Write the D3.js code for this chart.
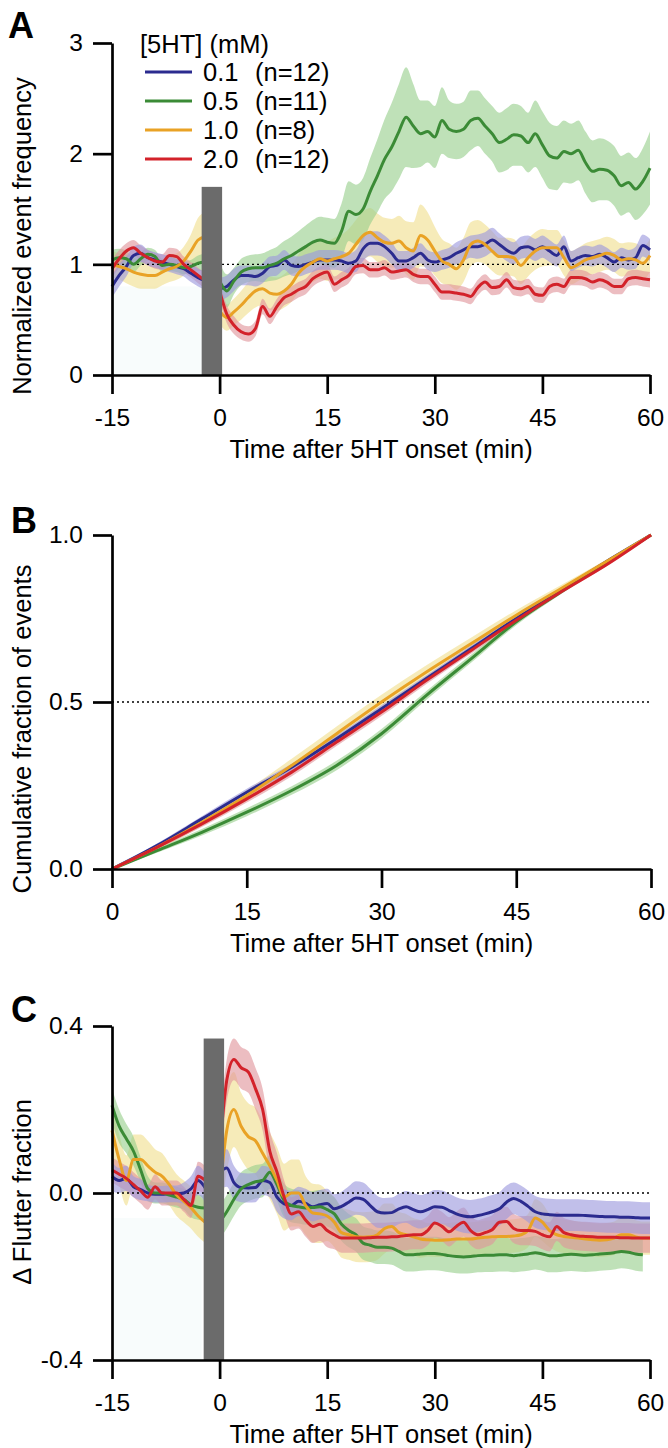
<!DOCTYPE html>
<html>
<head>
<meta charset="utf-8">
<script src="https://cdn.jsdelivr.net/npm/d3@7"></script>
<style>
  body { margin: 0; background: #fff; }
  svg { display: block; }
</style>
</head>
<body>
<div id="chart"></div>
<script>
// ---- data ----
const concLabels = ["0.1", "0.5", "1.0", "2.0"];
const nLabels = ["(n=12)", "(n=11)", "(n=8)", "(n=12)"];

// panels A and C: one value per minute, -15 ... 60 ; -1 min is hidden by the bar (null)
const timeMin = d3.range(-15, 61);

const freqBlue = [0.8, 0.9, 0.98, 1.08, 1.1, 1.06, 1.04, 1.02, 1.0, 0.98, 0.96, 0.92, 0.88, 0.85, null,
  0.78, 0.8, 0.86, 0.9, 0.9, 0.89, 0.92, 0.98, 0.99, 1.04, 0.99, 0.98, 1.0, 1.02, 1.04, 1.04, 1.04, 1.03, 1.01, 1.03,
  1.14, 1.19, 1.19, 1.16, 1.1, 1.03, 1.03, 1.06, 1.1, 1.04, 1.02, 1.04, 1.06, 1.1, 1.13, 1.16, 1.16, 1.18, 1.22, 1.18,
  1.13, 1.1, 1.15, 1.16, 1.13, 1.16, 1.12, 1.08, 1.16, 1.03, 1.06, 1.08, 1.07, 1.09, 1.06, 1.02, 1.06, 1.04, 1.06, 1.17, 1.13];
const freqGreen = [1.04, 1.06, 1.05, 1.0, 1.05, 1.09, 1.07, 0.99, 1.0, 0.99, 0.97, 0.98, 1.01, 1.02, null,
  0.85, 0.76, 0.85, 0.93, 0.96, 0.97, 0.97, 0.99, 1.01, 1.05, 1.08, 1.12, 1.16, 1.2, 1.22, 1.2, 1.19, 1.3, 1.48, 1.45,
  1.5, 1.66, 1.8, 1.95, 2.06, 2.2, 2.33, 2.25, 2.18, 2.2, 2.15, 2.3, 2.22, 2.2, 2.22, 2.3, 2.32, 2.25, 2.18, 2.1,
  2.13, 2.17, 2.16, 2.1, 2.18, 2.08, 1.98, 1.96, 2.02, 2.0, 2.03, 1.92, 1.84, 1.86, 1.85, 1.8, 1.71, 1.74, 1.68, 1.75, 1.87];
const freqOrange = [1.0, 0.98, 0.96, 0.93, 0.91, 0.9, 0.9, 0.93, 0.96, 0.98, 1.03, 1.12, 1.22, 1.25, null,
  0.58, 0.52, 0.57, 0.63, 0.7, 0.76, 0.78, 0.74, 0.73, 0.76, 0.82, 0.92, 0.98, 1.02, 1.05, 1.03, 1.05, 1.07, 1.1, 1.18,
  1.26, 1.29, 1.24, 1.2, 1.19, 1.21, 1.15, 1.12, 1.26, 1.22, 1.12, 1.03, 1.0, 0.96, 1.04, 1.18, 1.21, 1.18, 1.12, 1.07,
  1.07, 1.06, 0.99, 1.06, 1.12, 1.15, 1.15, 1.15, 1.06, 0.97, 1.0, 1.04, 1.06, 1.08, 1.1, 1.08, 1.04, 1.05, 1.04, 1.01, 1.08];
const freqRed = [0.96, 1.05, 1.12, 1.15, 1.1, 1.06, 1.03, 1.02, 1.08, 1.07, 1.0, 0.95, 0.9, 0.85, null,
  0.76, 0.55, 0.45, 0.39, 0.37, 0.42, 0.62, 0.53, 0.62, 0.7, 0.73, 0.77, 0.8, 0.87, 0.91, 0.93, 0.82, 0.86, 0.9, 0.98,
  0.99, 0.95, 0.95, 0.97, 0.93, 0.94, 0.95, 0.91, 0.89, 0.89, 0.82, 0.75, 0.75, 0.74, 0.73, 0.71, 0.79, 0.84, 0.79, 0.8,
  0.86, 0.79, 0.78, 0.8, 0.73, 0.72, 0.8, 0.82, 0.8, 0.88, 0.88, 0.87, 0.84, 0.86, 0.84, 0.8, 0.8, 0.87, 0.88, 0.87, 0.86];

const freqSemBlue = [0.1, 0.1, 0.09, 0.08, 0.08, 0.07, 0.07, 0.07, 0.07, 0.07, 0.07, 0.08, 0.08, 0.08, null,
  0.1, 0.1, 0.1, 0.09, 0.09, 0.09, 0.09, 0.09, 0.09, 0.09, 0.09, 0.09, 0.09, 0.09, 0.09, 0.09, 0.09, 0.09, 0.09, 0.1,
  0.11, 0.11, 0.11, 0.1, 0.1, 0.09, 0.09, 0.09, 0.09, 0.09, 0.09, 0.09, 0.09, 0.1, 0.1, 0.1, 0.11, 0.11, 0.11, 0.1,
  0.1, 0.1, 0.1, 0.1, 0.1, 0.1, 0.1, 0.1, 0.1, 0.09, 0.09, 0.09, 0.09, 0.09, 0.09, 0.09, 0.09, 0.09, 0.1, 0.1, 0.1];
const freqSemGreen = [0.09, 0.08, 0.07, 0.07, 0.06, 0.06, 0.06, 0.06, 0.06, 0.06, 0.06, 0.06, 0.07, 0.08, null,
  0.17, 0.15, 0.12, 0.12, 0.12, 0.12, 0.13, 0.14, 0.15, 0.16, 0.17, 0.18, 0.19, 0.2, 0.21, 0.22, 0.22, 0.25, 0.27, 0.27,
  0.28, 0.3, 0.33, 0.36, 0.4, 0.43, 0.45, 0.38, 0.3, 0.28, 0.28, 0.3, 0.26, 0.25, 0.25, 0.27, 0.25, 0.25, 0.25, 0.27,
  0.28, 0.28, 0.27, 0.27, 0.3, 0.3, 0.3, 0.29, 0.28, 0.27, 0.27, 0.28, 0.28, 0.28, 0.27, 0.27, 0.27, 0.27, 0.28, 0.3, 0.33];
const freqSemOrange = [0.12, 0.12, 0.13, 0.13, 0.13, 0.12, 0.12, 0.12, 0.12, 0.12, 0.13, 0.15, 0.2, 0.22, null,
  0.12, 0.12, 0.12, 0.13, 0.14, 0.15, 0.15, 0.15, 0.15, 0.15, 0.16, 0.17, 0.18, 0.18, 0.18, 0.18, 0.19, 0.2, 0.22, 0.22,
  0.22, 0.22, 0.22, 0.22, 0.22, 0.23, 0.24, 0.26, 0.28, 0.25, 0.22, 0.2, 0.19, 0.19, 0.2, 0.2, 0.19, 0.18, 0.18, 0.17,
  0.17, 0.17, 0.17, 0.17, 0.17, 0.17, 0.16, 0.16, 0.16, 0.15, 0.15, 0.15, 0.15, 0.15, 0.15, 0.15, 0.15, 0.15, 0.15, 0.15, 0.15];
const freqSemRed = [0.08, 0.08, 0.07, 0.07, 0.07, 0.07, 0.07, 0.07, 0.07, 0.07, 0.07, 0.07, 0.07, 0.07, null,
  0.08, 0.08, 0.08, 0.07, 0.07, 0.07, 0.07, 0.07, 0.07, 0.07, 0.07, 0.07, 0.07, 0.07, 0.07, 0.07, 0.07, 0.07, 0.07, 0.07,
  0.07, 0.07, 0.07, 0.07, 0.07, 0.07, 0.07, 0.07, 0.07, 0.07, 0.07, 0.07, 0.07, 0.07, 0.07, 0.07, 0.07, 0.07, 0.07, 0.07,
  0.07, 0.07, 0.07, 0.07, 0.07, 0.07, 0.07, 0.07, 0.07, 0.07, 0.07, 0.07, 0.07, 0.07, 0.07, 0.07, 0.07, 0.07, 0.07, 0.07, 0.07];

// panel B: cumulative fraction, every 5 min
const timeCum = [0, 5, 10, 15, 20, 25, 30, 35, 40, 45, 50, 55, 60];
const cumBlue = [0, 0.07, 0.15, 0.23, 0.305, 0.39, 0.48, 0.57, 0.66, 0.75, 0.835, 0.92, 1.0];
const cumGreen = [0, 0.055, 0.11, 0.17, 0.235, 0.31, 0.405, 0.52, 0.63, 0.74, 0.83, 0.915, 1.0];
const cumOrange = [0, 0.065, 0.14, 0.22, 0.31, 0.405, 0.5, 0.59, 0.675, 0.76, 0.84, 0.92, 1.0];
const cumRed = [0, 0.065, 0.135, 0.21, 0.29, 0.38, 0.47, 0.565, 0.655, 0.745, 0.83, 0.91, 1.0];
const cumSemBlue = [0, 0.006, 0.008, 0.01, 0.01, 0.01, 0.01, 0.01, 0.01, 0.008, 0.006, 0.004, 0];
const cumSemGreen = [0, 0.006, 0.01, 0.012, 0.013, 0.014, 0.014, 0.013, 0.012, 0.01, 0.007, 0.004, 0];
const cumSemOrange = [0, 0.008, 0.012, 0.016, 0.02, 0.022, 0.022, 0.02, 0.018, 0.015, 0.01, 0.006, 0];
const cumSemRed = [0, 0.006, 0.009, 0.011, 0.012, 0.012, 0.012, 0.011, 0.01, 0.008, 0.006, 0.004, 0];

// panel C: change in flutter fraction
const flutBlue = [0.04, 0.03, 0.035, 0.015, 0.008, 0.0, -0.003, -0.003, -0.002, -0.002, 0.0, 0.01, 0.03, 0.012, null,
  0.05, 0.06, 0.025, 0.013, 0.012, 0.013, 0.03, 0.025, -0.01, -0.026, -0.03, -0.02, -0.025, -0.033, -0.028, -0.025, -0.038, -0.032, -0.022, -0.012,
  -0.015, -0.03, -0.045, -0.048, -0.047, -0.038, -0.033, -0.04, -0.045, -0.04, -0.033, -0.034, -0.042, -0.05, -0.055, -0.057, -0.054, -0.05, -0.045, -0.038,
  -0.022, -0.013, -0.02, -0.032, -0.045, -0.05, -0.052, -0.053, -0.053, -0.053, -0.053, -0.054, -0.055, -0.056, -0.057, -0.057, -0.058, -0.058, -0.059, -0.06, -0.06];
const flutGreen = [0.21, 0.16, 0.13, 0.1, 0.055, 0.01, 0.0, 0.0, -0.005, -0.01, -0.015, -0.028, -0.034, -0.036, null,
  -0.07, -0.045, -0.015, 0.01, 0.02, 0.027, 0.03, 0.05, 0.02, -0.018, -0.03, -0.033, -0.036, -0.035, -0.033, -0.04, -0.05, -0.075, -0.09, -0.1,
  -0.12, -0.125, -0.13, -0.13, -0.132, -0.14, -0.148, -0.148, -0.146, -0.145, -0.145, -0.147, -0.15, -0.152, -0.153, -0.152, -0.15, -0.149, -0.149, -0.148,
  -0.148, -0.15, -0.148, -0.146, -0.143, -0.146, -0.15, -0.15, -0.148, -0.147, -0.148, -0.149, -0.148, -0.146, -0.145, -0.143, -0.14, -0.142, -0.146, -0.148];
const flutOrange = [0.15, 0.08, 0.03, 0.08, 0.08, 0.065, 0.05, 0.04, 0.02, -0.005, -0.02, -0.035, -0.055, -0.07, null,
  0.0, 0.15, 0.2, 0.16, 0.135, 0.125, 0.095, 0.065, 0.03, -0.01, 0.0, 0.0, -0.03, -0.048, -0.05, -0.055, -0.07, -0.095, -0.1, -0.105,
  -0.106, -0.105, -0.1, -0.085, -0.08, -0.095, -0.1, -0.105, -0.11, -0.112, -0.113, -0.113, -0.112, -0.11, -0.11, -0.11, -0.108, -0.106, -0.105, -0.104,
  -0.104, -0.103, -0.1, -0.09, -0.06, -0.07, -0.09, -0.1, -0.104, -0.106, -0.108, -0.11, -0.112, -0.113, -0.112, -0.108, -0.1, -0.1, -0.105, -0.108, -0.108];
const flutRed = [0.055, 0.045, 0.035, 0.02, 0.005, -0.01, 0.015, 0.0, 0.0, 0.0, -0.015, -0.03, 0.04, 0.03, null,
  0.1, 0.27, 0.32, 0.3, 0.29, 0.25, 0.2, 0.1, 0.05, -0.01, -0.05, -0.045, -0.065, -0.08, -0.075, -0.09, -0.1, -0.108, -0.108, -0.108,
  -0.108, -0.107, -0.106, -0.106, -0.105, -0.104, -0.102, -0.1, -0.1, -0.09, -0.072, -0.08, -0.093, -0.08, -0.07, -0.09, -0.1, -0.095, -0.088, -0.07,
  -0.068, -0.085, -0.09, -0.09, -0.092, -0.1, -0.105, -0.08, -0.095, -0.1, -0.103, -0.104, -0.105, -0.106, -0.106, -0.106, -0.107, -0.107, -0.108, -0.108, -0.108];

const flutSemBlue = [0.035, 0.03, 0.03, 0.025, 0.025, 0.02, 0.02, 0.02, 0.02, 0.02, 0.025, 0.03, 0.035, 0.035, null,
  0.045, 0.045, 0.04, 0.035, 0.035, 0.035, 0.035, 0.035, 0.035, 0.035, 0.035, 0.035, 0.035, 0.035, 0.035, 0.035, 0.035, 0.035, 0.038, 0.04,
  0.04, 0.04, 0.038, 0.036, 0.036, 0.036, 0.038, 0.04, 0.04, 0.04, 0.04, 0.04, 0.04, 0.04, 0.04, 0.04, 0.04, 0.04, 0.04, 0.04,
  0.04, 0.038, 0.038, 0.038, 0.038, 0.038, 0.038, 0.038, 0.038, 0.038, 0.038, 0.038, 0.038, 0.038, 0.038, 0.038, 0.038, 0.038, 0.038, 0.038, 0.038];
const flutSemGreen = [0.04, 0.04, 0.035, 0.035, 0.03, 0.03, 0.025, 0.025, 0.025, 0.025, 0.025, 0.03, 0.03, 0.03, null,
  0.04, 0.04, 0.04, 0.04, 0.04, 0.04, 0.04, 0.04, 0.04, 0.04, 0.04, 0.04, 0.04, 0.04, 0.04, 0.04, 0.04, 0.04, 0.04, 0.04,
  0.04, 0.04, 0.04, 0.04, 0.04, 0.04, 0.04, 0.04, 0.04, 0.04, 0.04, 0.04, 0.04, 0.04, 0.04, 0.04, 0.04, 0.04, 0.04, 0.04,
  0.04, 0.04, 0.04, 0.04, 0.04, 0.04, 0.04, 0.04, 0.04, 0.04, 0.04, 0.04, 0.04, 0.04, 0.04, 0.04, 0.04, 0.04, 0.04, 0.04, 0.04];
const flutSemOrange = [0.06, 0.06, 0.06, 0.06, 0.06, 0.06, 0.055, 0.055, 0.05, 0.05, 0.05, 0.05, 0.05, 0.05, null,
  0.08, 0.1, 0.09, 0.08, 0.08, 0.08, 0.08, 0.08, 0.08, 0.08, 0.08, 0.08, 0.07, 0.07, 0.07, 0.06, 0.06, 0.06, 0.06, 0.06,
  0.06, 0.06, 0.06, 0.06, 0.055, 0.05, 0.05, 0.045, 0.045, 0.04, 0.04, 0.04, 0.04, 0.04, 0.04, 0.04, 0.04, 0.04, 0.04, 0.04,
  0.04, 0.04, 0.04, 0.04, 0.045, 0.045, 0.04, 0.04, 0.04, 0.04, 0.04, 0.04, 0.04, 0.04, 0.04, 0.04, 0.04, 0.04, 0.04, 0.04, 0.04];
const flutSemRed = [0.03, 0.03, 0.03, 0.03, 0.03, 0.03, 0.03, 0.03, 0.03, 0.03, 0.03, 0.03, 0.035, 0.035, null,
  0.05, 0.05, 0.05, 0.05, 0.05, 0.05, 0.05, 0.05, 0.045, 0.04, 0.04, 0.04, 0.04, 0.04, 0.04, 0.04, 0.035, 0.035, 0.035, 0.035,
  0.035, 0.035, 0.035, 0.035, 0.035, 0.035, 0.035, 0.035, 0.035, 0.035, 0.035, 0.035, 0.035, 0.035, 0.035, 0.035, 0.035, 0.035, 0.035, 0.035,
  0.035, 0.035, 0.035, 0.035, 0.035, 0.035, 0.035, 0.035, 0.035, 0.035, 0.035, 0.035, 0.035, 0.035, 0.035, 0.035, 0.035, 0.035, 0.035, 0.035, 0.035];

// 5HT application bar (min) and axis ticks
const barWindow = [-2.5, 0.35];
const ticksTime = [-15, 0, 15, 30, 45, 60];
const ticksTimeB = [0, 15, 30, 45, 60];
const ticksFreq = [0, 1, 2, 3];
const ticksCum = [0, 0.5, 1];
const ticksFlut = [-0.4, 0, 0.4];

// ---- styles ----
const lineColors = ["#2b2b8f", "#3b8b36", "#e9a225", "#d3222a"];
const bandColors = ["#9b97dd", "#97cf8d", "#f1df8e", "#e0959b"];
const font = "'Liberation Sans', Arial, Helvetica, sans-serif";
const W = 668, H = 1448;

// plain hyphen minus like the original figure
const hyph = f => d => f(d).replace('\u2212', '-');

const svg = d3.select('#chart').append('svg')
    .attr('width', W).attr('height', H)
    .attr('font-family', font);

const xTime = d3.scaleLinear([-15, 60], [112, 650]);
const xCum = d3.scaleLinear([0, 60], [112, 651]);
const yFreq = d3.scaleLinear([0, 3], [375, 43]);
const yCum = d3.scaleLinear([0, 1], [869, 535]);
const yFlut = d3.scaleLinear([-0.4, 0.4], [1360, 1026]);

function toSeries(times, means, sems) {
    return times.map((t, i) => ({ t: t, m: means[i], s: sems[i] }));
}

function drawTraces(g, x, y, times, means, sems, curve) {
    let series = means.map((m, i) => toSeries(times, m, sems[i]));
    let area = d3.area()
        .defined(d => d.m != null)
        .x(d => x(d.t))
        .y0(d => y(d.m - d.s))
        .y1(d => y(d.m + d.s))
        .curve(curve);
    let line = d3.line()
        .defined(d => d.m != null)
        .x(d => x(d.t))
        .y(d => y(d.m))
        .curve(curve);
    // bands: yellow, green, red, blue
    let bandOrder = [2, 1, 3, 0];
    g.append('g').selectAll('path')
        .data(bandOrder)
        .join('path')
        .attr('d', i => area(series[i]))
        .attr('fill', i => bandColors[i])
        .attr('fill-opacity', 0.62);
    return () => g.append('g').selectAll('path')
        .data([0, 1, 2, 3])
        .join('path')
        .attr('d', i => line(series[i]))
        .attr('fill', 'none')
        .attr('stroke', i => lineColors[i])
        .attr('stroke-width', 3)
        .attr('stroke-linejoin', 'round');
}

function dotted(g, x0, x1, yv) {
    g.append('line')
        .attr('x1', x0).attr('x2', x1)
        .attr('y1', yv).attr('y2', yv)
        .attr('stroke', '#000')
        .attr('stroke-width', 1.4)
        .attr('stroke-dasharray', '2,3');
}

function axes(g, x, y, xTicks, yTicks, yFmt, xTitle, yTitle, yTitlePos) {
    let ax = g.append('g')
        .attr('transform', `translate(0,${y.range()[0]})`)
        .call(d3.axisBottom(x).tickValues(xTicks).tickFormat(hyph(d3.format('d')))
            .tickSize(19).tickPadding(15).tickSizeOuter(0));
    let ay = g.append('g')
        .attr('transform', `translate(${x.range()[0]},0)`)
        .call(d3.axisLeft(y).tickValues(yTicks).tickFormat(hyph(yFmt))
            .tickSize(19).tickPadding(10).tickSizeOuter(0));
    [ax, ay].forEach(a => {
        a.attr('font-family', font).attr('font-size', 24.5);
        a.selectAll('path, line').attr('stroke', '#000').attr('stroke-width', 2.7);
        a.selectAll('text').attr('fill', '#000');
    });
    g.append('text')
        .attr('x', (x.range()[0] + x.range()[1]) / 2)
        .attr('y', y.range()[0] + 83)
        .attr('text-anchor', 'middle')
        .attr('font-size', 25.5)
        .text(xTitle);
    g.append('text')
        .attr('transform', `translate(31,${yTitlePos}) rotate(-90)`)
        .attr('text-anchor', 'middle')
        .attr('font-size', 25.5)
        .text(yTitle);
}

function panelLetter(txt, px, py) {
    svg.append('text')
        .attr('x', px).attr('y', py)
        .attr('font-size', 36)
        .attr('font-weight', 'bold')
        .text(txt);
}

// ---- panel A ----
let gA = svg.append('g');
gA.append('rect')
    .attr('x', xTime(-15)).attr('width', xTime(barWindow[0]) - xTime(-15))
    .attr('y', yFreq(0.8)).attr('height', yFreq(0) - yFreq(0.8))
    .attr('fill', '#f8fcfc');
let linesA = drawTraces(gA, xTime, yFreq, timeMin,
    [freqBlue, freqGreen, freqOrange, freqRed],
    [freqSemBlue, freqSemGreen, freqSemOrange, freqSemRed], d3.curveMonotoneX);
dotted(gA, xTime(-15), xTime(60), yFreq(1));
linesA();
gA.append('rect')
    .attr('x', xTime(barWindow[0])).attr('width', xTime(barWindow[1]) - xTime(barWindow[0]))
    .attr('y', yFreq(1.7)).attr('height', yFreq(0) - yFreq(1.7))
    .attr('fill', '#6b6b6b');
axes(gA, xTime, yFreq, ticksTime, ticksFreq, d3.format('d'),
    'Time after 5HT onset (min)', 'Normalized event frequency', 236);

// legend
let leg = svg.append('g').attr('font-size', 25.5);
leg.append('text').attr('x', 140).attr('y', 53).text('[5HT] (mM)');
concLabels.forEach((c, i) => {
    let yy = 81 + i * 29;
    leg.append('line')
        .attr('x1', 145).attr('x2', 192)
        .attr('y1', yy - 9).attr('y2', yy - 9)
        .attr('stroke', lineColors[i]).attr('stroke-width', 3);
    leg.append('text').attr('x', 203).attr('y', yy).text(c);
    leg.append('text').attr('x', 255).attr('y', yy).text(nLabels[i]);
});

// ---- panel B ----
let gB = svg.append('g');
let linesB = drawTraces(gB, xCum, yCum, timeCum,
    [cumBlue, cumGreen, cumOrange, cumRed],
    [cumSemBlue, cumSemGreen, cumSemOrange, cumSemRed], d3.curveMonotoneX);
dotted(gB, xCum(0), xCum(60), yCum(0.5));
linesB();
axes(gB, xCum, yCum, ticksTimeB, ticksCum, d3.format('.1f'),
    'Time after 5HT onset (min)', 'Cumulative fraction of events', 729);

// ---- panel C ----
let gC = svg.append('g');
gC.append('rect')
    .attr('x', xTime(-15)).attr('width', xTime(barWindow[0]) - xTime(-15))
    .attr('y', yFlut(-0.06)).attr('height', yFlut(-0.4) - yFlut(-0.06))
    .attr('fill', '#f8fcfc');
let linesC = drawTraces(gC, xTime, yFlut, timeMin,
    [flutBlue, flutGreen, flutOrange, flutRed],
    [flutSemBlue, flutSemGreen, flutSemOrange, flutSemRed], d3.curveMonotoneX);
dotted(gC, xTime(-15), xTime(60), yFlut(0));
linesC();
gC.append('rect')
    .attr('x', xTime(barWindow[0]) + 2).attr('width', xTime(barWindow[1]) - xTime(barWindow[0]))
    .attr('y', yFlut(0.37)).attr('height', yFlut(-0.4) - yFlut(0.37))
    .attr('fill', '#6b6b6b');
axes(gC, xTime, yFlut, ticksTime, ticksFlut, d3.format('.1f'),
    'Time after 5HT onset (min)', '\u0394 Flutter fraction', 1192);

panelLetter('A', 8, 38);
panelLetter('B', 11, 533);
panelLetter('C', 11, 1022);
</script>
</body>
</html>
